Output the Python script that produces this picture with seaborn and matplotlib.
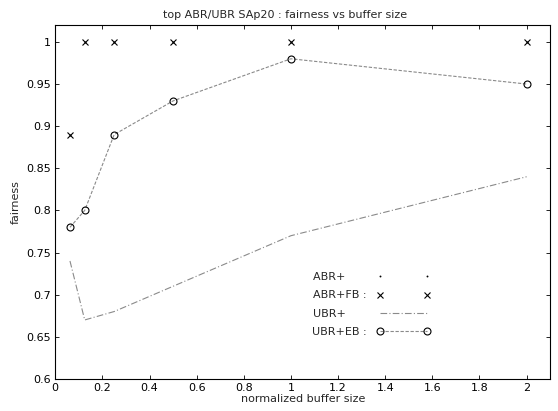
import matplotlib
import numpy as np
import pandas as pd
import seaborn as sns
from matplotlib import pyplot as plt
from matplotlib.ticker import FixedLocator, FuncFormatter

matplotlib.use("Agg")

buffer_sizes = [0.0625, 0.125, 0.25, 0.5, 1.0, 2.0]
abr_plus = [0.89, 1.0, 1.0, 1.0, 1.0, 1.0]
abr_fb = [0.89, 1.0, 1.0, 1.0, 1.0, 1.0]
ubr_plus = [0.74, 0.67, 0.68, 0.71, 0.77, 0.84]
ubr_eb = [0.78, 0.80, 0.89, 0.93, 0.98, 0.95]

x_ticks = [0, 0.2, 0.4, 0.6, 0.8, 1.0, 1.2, 1.4, 1.6, 1.8, 2.0]
y_ticks = [0.6, 0.65, 0.7, 0.75, 0.8, 0.85, 0.9, 0.95, 1.0]

sns.set_theme(style="ticks")
plt.rcParams["font.family"] = ["DejaVu Sans"]
plt.rcParams["font.size"] = 8

data = pd.DataFrame(
    {
        "buffer": buffer_sizes * 4,
        "fairness": abr_plus + abr_fb + ubr_plus + ubr_eb,
        "scheme": ["ABR+"] * 6 + ["ABR+FB :"] * 6 + ["UBR+"] * 6 + ["UBR+EB :"] * 6,
    }
)

fig = plt.figure(figsize=(5.58, 4.11), dpi=100)
ax = fig.add_axes([0.099, 0.078, 0.887, 0.861])

line_gray = "#8a8a8a"
# pad the short labels so the right-aligned legend text lines up on the left
sns.lineplot(data=data[data["scheme"] == "ABR+"], x="buffer", y="fairness", ax=ax,
             color="black", linestyle="none", marker=".", markersize=1.2,
             markeredgecolor="black", label="ABR+      ")
sns.lineplot(data=data[data["scheme"] == "ABR+FB :"], x="buffer", y="fairness", ax=ax,
             color="black", linestyle="none", marker="x", markersize=4.5, markeredgewidth=0.8,
             markeredgecolor="black", label="ABR+FB :")
sns.lineplot(data=data[data["scheme"] == "UBR+"], x="buffer", y="fairness", ax=ax,
             color=line_gray, linestyle=(0, (6, 2, 1, 2)), linewidth=0.8, label="UBR+      ")
sns.lineplot(data=data[data["scheme"] == "UBR+EB :"], x="buffer", y="fairness", ax=ax,
             color=line_gray, linestyle=(0, (3, 1.5)), linewidth=0.8, marker="o", markersize=5,
             markerfacecolor="none", markeredgecolor="black", markeredgewidth=0.8, label="UBR+EB :")

ax.set_xlim(0, 2.1)
ax.set_ylim(0.6, 1.02)
ax.xaxis.set_major_locator(FixedLocator(x_ticks))
ax.yaxis.set_major_locator(FixedLocator(y_ticks))
ax.xaxis.set_major_formatter(FuncFormatter(lambda v, _: f"{v:g}"))
ax.yaxis.set_major_formatter(FuncFormatter(lambda v, _: f"{v:g}"))
ax.tick_params(direction="in", top=True, right=True, length=3, width=0.6,
               labelsize=8, colors="black", pad=3)
for spine in ax.spines.values():
    spine.set_visible(True)
    spine.set_linewidth(0.8)
    spine.set_color("black")

ax.set_title("top ABR/UBR SAp20 : fairness vs buffer size", fontsize=8, pad=5, x=0.465)
ax.set_xlabel("normalized buffer size", fontsize=8, labelpad=1)
ax.set_ylabel("fairness", fontsize=8, labelpad=4)

ax.legend(loc="upper left", bbox_to_anchor=(0.499, 0.33), frameon=False, markerfirst=False,
          numpoints=2, handlelength=4.8, handletextpad=0.9, labelspacing=0.75, fontsize=8)

fig.savefig("out.png", dpi=100)
